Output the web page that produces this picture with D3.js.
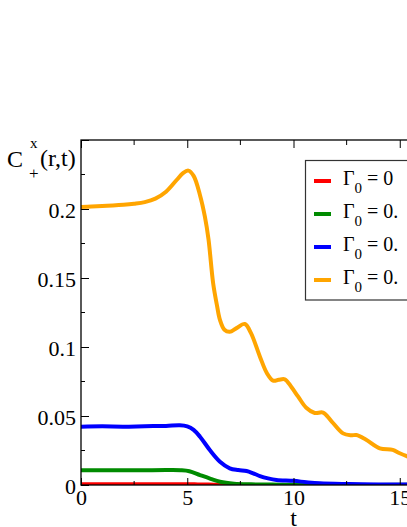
<!DOCTYPE html>
<html>
<head>
<meta charset="utf-8">
<script src="https://cdn.jsdelivr.net/npm/d3@7/dist/d3.min.js"></script>
<style>
html,body{margin:0;padding:0;background:#fff;overflow:hidden;}
svg text{font-family:"Liberation Serif","Times New Roman",Times,"DejaVu Serif",serif !important;}
</style>
</head>
<body>
<svg id="chart" width="407" height="527"></svg>
<script>
// ---- data ----
const seriesNames = ["Γ0 = 0", "Γ0 = 0.", "Γ0 = 0.", "Γ0 = 0."];
const legendValues = ["0", "0.", "0.", "0."];
const seriesColors = ["#ff0000", "#008b00", "#0000ff", "#ffa500"];

const redT = [0, 1, 2, 3, 4, 5, 5.5, 6, 6.5, 7, 8, 10, 12, 15.6];
const redV = [0.0006, 0.0006, 0.0006, 0.0006, 0.0006, 0.00055, 0.00045, 0.0003, 0.0002, 0.0001, 0.00005, 0.00002, 0, 0];

const greenT = [0, 1, 2, 3, 4, 4.7, 5.1, 5.6, 6.1, 6.54, 7.2, 8, 9, 10, 12, 15.6];
const greenV = [0.0107, 0.0107, 0.0107, 0.0107, 0.0108, 0.0107, 0.0100, 0.0072, 0.0045, 0.0024, 0.0010, 0.0005, 0.0003, 0.0002, 0.0001, 0.0001];

const blueT = [0, 1, 2, 3, 4, 4.65, 5.0, 5.3, 5.6, 6.06, 6.54, 7.0, 7.4, 7.79, 8.1, 8.42, 8.8, 9.2, 10, 10.6, 11.24, 12.65, 14, 15.6];
const blueV = [0.0423, 0.0425, 0.0423, 0.0426, 0.0428, 0.0433, 0.0425, 0.0400, 0.0350, 0.0254, 0.0169, 0.0121, 0.0108, 0.0101, 0.0085, 0.0065, 0.0048, 0.0036, 0.0030, 0.0020, 0.0012, 0.0007, 0.0004, 0.0003];

const orangeT = [0, 0.5, 1, 1.5, 2, 2.5, 3, 3.5, 4, 4.5, 4.8, 5.05, 5.3, 5.6, 5.83, 6.0, 6.22, 6.4, 6.54, 6.75, 7.0, 7.3, 7.71, 8.0, 8.42, 8.75, 9.04, 9.3, 9.59, 9.9, 10.22, 10.6, 11.0, 11.39, 11.8, 12.33, 12.7, 12.96, 13.4, 14.06, 14.67, 15.0, 15.4, 15.8];
const orangeV = [0.2015, 0.2018, 0.2022, 0.2025, 0.2030, 0.2038, 0.2050, 0.2075, 0.2125, 0.2210, 0.2260, 0.2278, 0.2240, 0.2100, 0.1944, 0.1780, 0.1460, 0.1300, 0.1196, 0.1125, 0.1110, 0.1135, 0.1167, 0.1100, 0.0930, 0.0810, 0.0756, 0.0762, 0.0766, 0.0710, 0.0640, 0.0560, 0.0522, 0.0525, 0.0460, 0.0374, 0.0360, 0.0362, 0.0330, 0.0266, 0.0254, 0.0230, 0.0205, 0.0185];

const xMajorTicks = [0, 5, 10, 15, 20];
const xMinorTicks = [2.5, 7.5, 12.5, 17.5];
const yMajorTicks = [0, 0.05, 0.1, 0.15, 0.2, 0.25];
const yMinorTicks = [0.025, 0.075, 0.125, 0.175, 0.225];
const yTickLabels = ["0", "0.05", "0.1", "0.15", "0.2", ""];

const series = [
  {t: redT, v: redV},
  {t: greenT, v: greenV},
  {t: blueT, v: blueV},
  {t: orangeT, v: orangeV}
];

// ---- layout ----
const svg = d3.select("#chart");
const pL = 81, pR = 506, pT = 140, pB = 485;
const x = d3.scaleLinear().domain([0, 20]).range([pL, pR]);
const y = d3.scaleLinear().domain([0, 0.25]).range([pB, pT]);

svg.append("defs").append("clipPath").attr("id", "plotclip")
  .append("rect").attr("x", pL).attr("y", pT).attr("width", pR - pL).attr("height", pB - pT);

// curves
const line = d3.line().x(d => x(d[0])).y(d => y(d[1])).curve(d3.curveCatmullRom.alpha(0.5));
const g = svg.append("g").attr("clip-path", "url(#plotclip)");
series.forEach((s, i) => {
  const pts = s.t.map((t, k) => [t, s.v[k]]);
  g.append("path").datum(pts).attr("d", line)
    .attr("fill", "none").attr("stroke", seriesColors[i])
    .attr("stroke-width", 4).attr("stroke-linejoin", "round").attr("stroke-linecap", "round");
});

// axes (ticks pointing inward)
const axBottom = d3.axisBottom(x).tickValues(xMajorTicks).tickSizeInner(-7).tickSizeOuter(0).tickFormat(d3.format("d"));
const gb = svg.append("g").attr("transform", `translate(0,${pB})`).call(axBottom);
gb.select(".domain").remove();
gb.attr("font-family", null).attr("font-size", null);
gb.selectAll("text").attr("y", 20).attr("dy", 0).style("font-size", "22px").attr("fill", "#000");
gb.selectAll("line").attr("stroke", "#000");
svg.append("g").selectAll("line").data(xMinorTicks).join("line")
  .attr("x1", d => x(d)).attr("x2", d => x(d)).attr("y1", pB).attr("y2", pB - 4).attr("stroke", "#000");

// top ticks
const axTop = d3.axisTop(x).tickValues(xMajorTicks).tickSizeInner(-8).tickSizeOuter(0).tickFormat("");
const gt = svg.append("g").attr("transform", `translate(0,${pT})`).call(axTop);
gt.select(".domain").remove();
gt.selectAll("line").attr("stroke", "#000");
svg.append("g").selectAll("line").data(xMinorTicks).join("line")
  .attr("x1", d => x(d)).attr("x2", d => x(d)).attr("y1", pT).attr("y2", pT + 5).attr("stroke", "#000");

// left axis
const axLeft = d3.axisLeft(y).tickValues(yMajorTicks).tickSizeInner(-8).tickSizeOuter(0)
  .tickFormat((d, i) => yTickLabels[i]);
const gl = svg.append("g").attr("transform", `translate(${pL},0)`).call(axLeft);
gl.select(".domain").remove();
gl.attr("font-family", null).attr("font-size", null);
gl.selectAll("text").attr("x", -5).attr("dy", "0.4em").style("font-size", "22px").attr("fill", "#000");
gl.selectAll("line").attr("stroke", "#000");
svg.append("g").selectAll("line").data(yMinorTicks).join("line")
  .attr("x1", pL).attr("x2", pL + 4).attr("y1", d => y(d)).attr("y2", d => y(d)).attr("stroke", "#000");

// frame
svg.append("rect").attr("x", pL).attr("y", pT).attr("width", pR - pL).attr("height", pB - pT)
  .attr("fill", "none").attr("stroke", "#000").attr("stroke-width", 1.3);

// y label
const yl = svg.append("g").attr("fill", "#000");
yl.append("text").attr("x", 7).attr("y", 167).style("font-size", "24px").text("C");
yl.append("text").attr("x", 30).attr("y", 148).style("font-size", "15px").text("x");
yl.append("text").attr("x", 29).attr("y", 179).style("font-size", "17px").text("+");
yl.append("text").attr("x", 40).attr("y", 166).style("font-size", "24px").text("(r,t)");

// x label
svg.append("text").attr("x", (pL + pR) / 2).attr("y", 526).attr("text-anchor", "middle")
  .style("font-size", "24px").attr("fill", "#000").text("t");

// legend
const lg = svg.append("g");
lg.append("rect").attr("x", 305.5).attr("y", 160.5).attr("width", 160).attr("height", 139.5)
  .attr("fill", "#fff").attr("stroke", "#333").attr("stroke-width", 1.2);
seriesNames.forEach((name, i) => {
  const by = 185 + i * 33;
  lg.append("line").attr("x1", 314).attr("x2", 331).attr("y1", by - 4).attr("y2", by - 4)
    .attr("stroke", seriesColors[i]).attr("stroke-width", 4);
  const t = lg.append("text").attr("x", 343).attr("y", by).style("font-size", "20px").attr("fill", "#000");
  t.append("tspan").text("Γ");
  t.append("tspan").attr("dy", 8).style("font-size", "15px").text("0");
  t.append("tspan").attr("dy", -8).text(" = " + legendValues[i]);
});
</script>
</body>
</html>
